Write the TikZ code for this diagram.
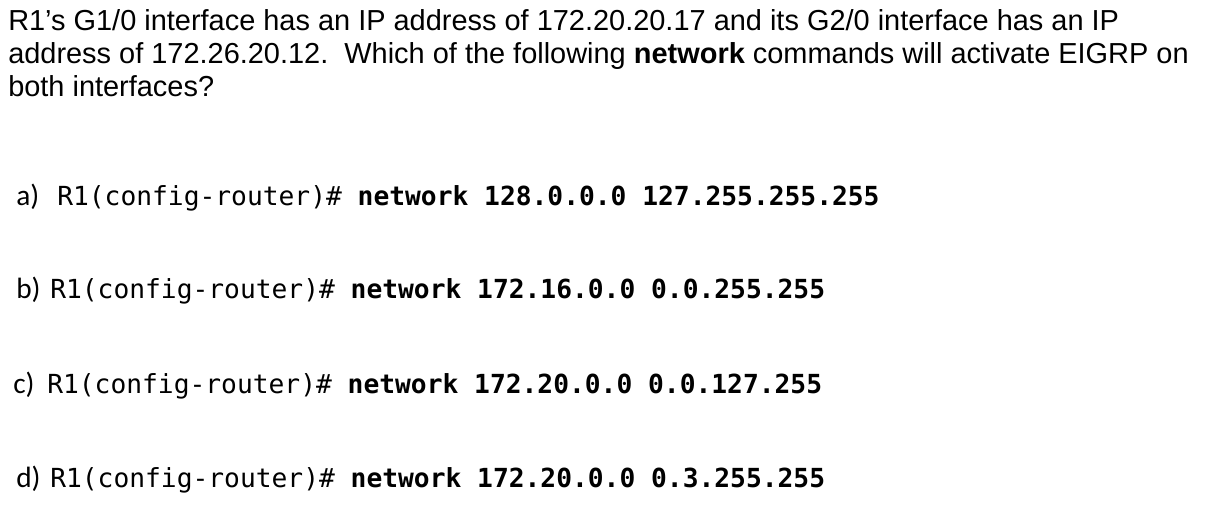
\documentclass[tikz,border=0pt]{standalone}
\usepackage{fontspec}
\setmainfont{Liberation Sans}
\newfontfamily\labelfont{Carlito}
\setmonofont{DejaVu Sans Mono}
\usepackage{tikz}
\usetikzlibrary{positioning}

\begin{document}
\begin{tikzpicture}[x=0.75pt,y=-0.75pt]
    \tikzset{qline/.style = {anchor=base west,inner sep=0pt,font=\fontsize{21.7}{26}\selectfont}}
    \tikzset{optlabel/.style = {anchor=base west,inner sep=0pt,font=\labelfont\fontsize{22}{26}\selectfont}}
    \tikzset{cmd/.style = {anchor=base west,inner sep=0pt,font=\ttfamily\fontsize{19.7}{24}\selectfont}}
    \useasboundingbox[fill=white] (0,0) rectangle (1219,513);
    % question
    \node[qline] (q1) at (8,31) {R1’s G1/0 interface has an IP address of 172.20.20.17 and its G2/0 interface has an IP};
    \node[qline] (q2) at (8,64) {address of 172.26.20.12.\ \ Which of the following \textbf{network} commands will activate EIGRP on};
    \node[qline] (q3) at (8,97) {both interfaces?};
    % options
    \node[optlabel] (la) at (16,205) {a)};
    \node[cmd] (ca) at (57,205) {R1(config-router)\# \textbf{network 128.0.0.0 127.255.255.255}};
    \node[optlabel] (lb) at (16,298) {b)};
    \node[cmd] (cb) at (50,298) {R1(config-router)\# \textbf{network 172.16.0.0 0.0.255.255}};
    \node[optlabel] (lc) at (13,393) {c)};
    \node[cmd] (cc) at (47,393) {R1(config-router)\# \textbf{network 172.20.0.0 0.0.127.255}};
    \node[optlabel] (ld) at (16,487) {d)};
    \node[cmd] (cd) at (50,487) {R1(config-router)\# \textbf{network 172.20.0.0 0.3.255.255}};
\end{tikzpicture}
\end{document}
